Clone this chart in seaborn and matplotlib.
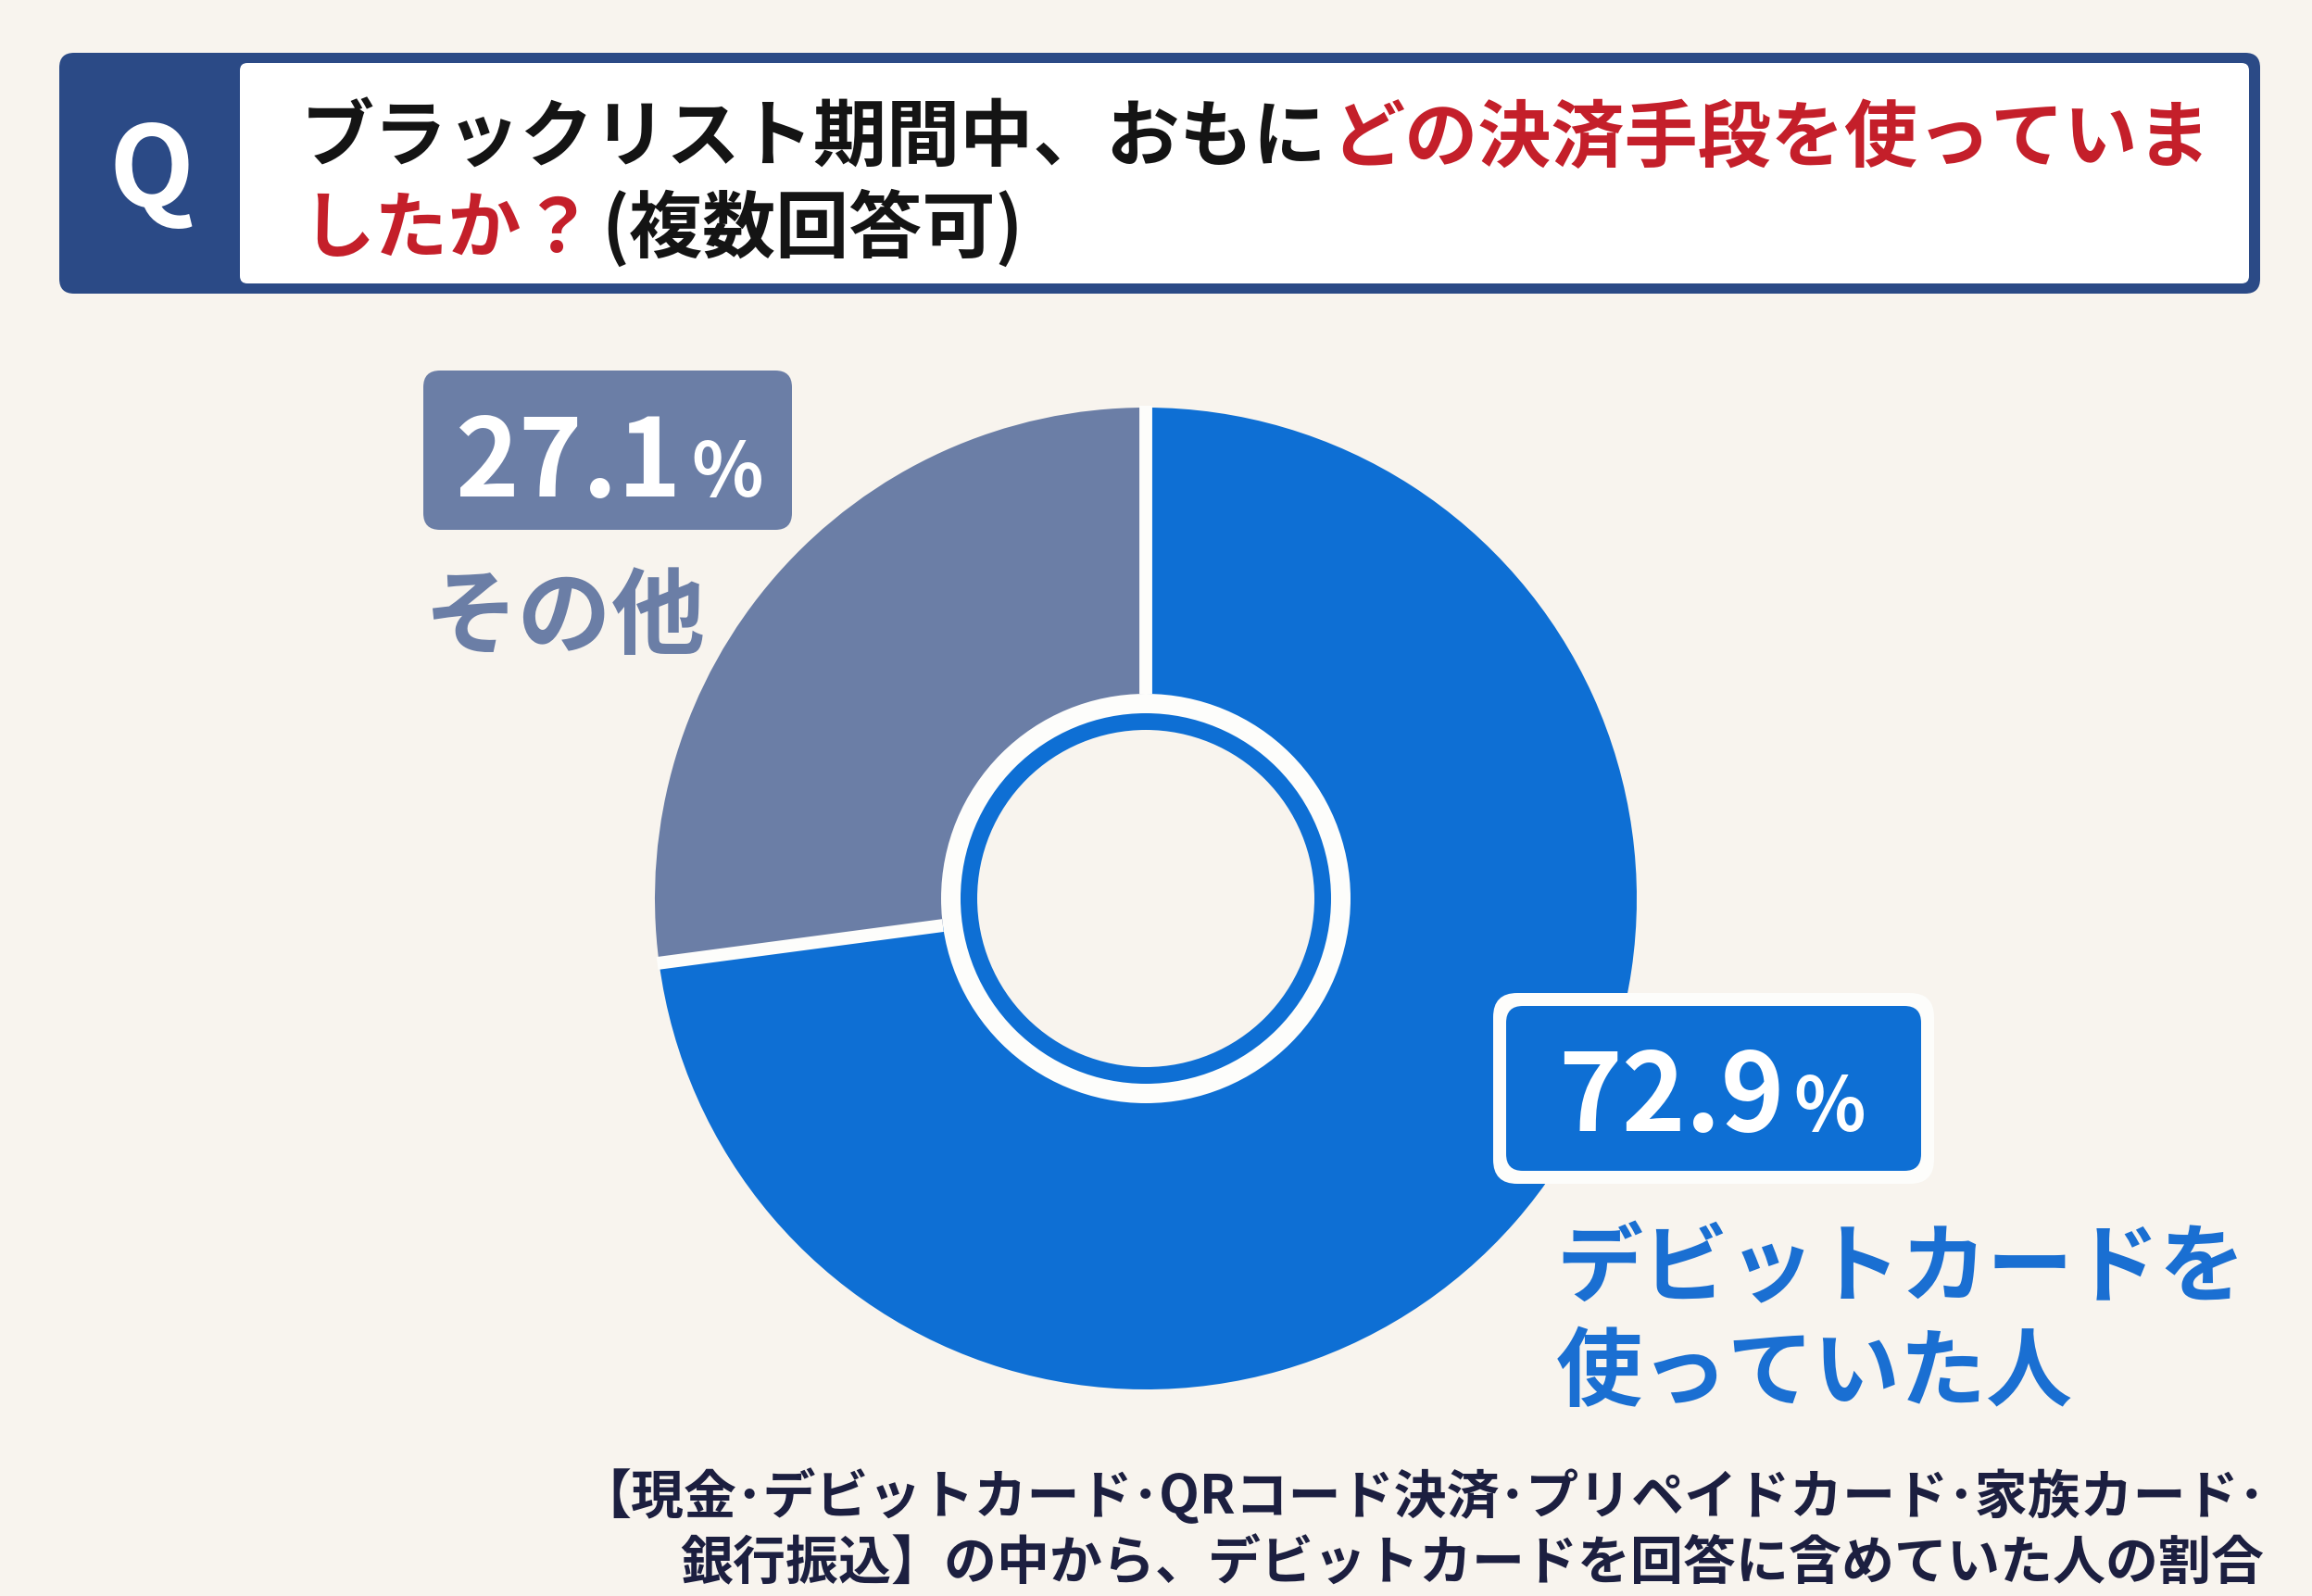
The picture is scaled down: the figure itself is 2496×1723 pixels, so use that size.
import numpy as np
import matplotlib
matplotlib.use("Agg")
import matplotlib.pyplot as plt
import seaborn as sns
from matplotlib.patches import FancyBboxPatch, Circle

W, H = 2496, 1724

# data
values = [72.9, 27.1]
labels = ["デビットカードを\n使っていた人", "その他"]
slice_colors = ["#0e6fd4", "#6b7ea6"]
title_line1 = [("ブラックリスト期間中、おもに", "#141414"), ("どの決済手段を使っていま", "#c41f2a")]
title_line2 = [("したか？", "#c41f2a"), ("(複数回答可)", "#141414")]
note_line1 = "【現金･デビットカード･QRコード決済･プリペイドカード･家族カード･"
note_line2 = "銀行振込】の中から、デビットカードを回答に含めていた人の割合"

BG = "#f8f4ee"
NAVY = "#2b4a86"
NOTE = "#1c1f40"
EDGE = "#fdfdfb"
JP = "Noto Sans CJK JP"

sns.set_theme(style="white")
plt.rcParams['font.family'] = [JP, 'DejaVu Sans']

fig = plt.figure(figsize=(W / 100, H / 100), dpi=100, facecolor=BG)
ax = fig.add_axes([0, 0, 1, 1])
renderer = fig.canvas.get_renderer()


def Y(y):
    # image y (top-down) -> data y
    return H - y


def put_runs(parts, x, y, gap=0, ha="left"):
    # parts: (text, color, size); laid out left to right on one baseline
    items = []
    for s, c, size in parts:
        t = ax.text(0, Y(y), s, color=c, fontsize=size, fontweight="bold",
                    ha="left", va="baseline", zorder=10)
        items.append((t, t.get_window_extent(renderer).width))
    total = sum(w for _, w in items) + gap * (len(items) - 1)
    if ha == "left":
        cur = x
    elif ha == "center":
        cur = x - total / 2
    else:
        cur = x - total
    for t, w in items:
        t.set_x(cur)
        cur += w + gap


# donut
cx, cy = 1237, 971
r_out, r_in = 530, 221
palette = sns.color_palette(slice_colors)
wedges, _ = ax.pie(values, colors=palette, startangle=90, counterclock=False,
                   center=(cx, Y(cy)), radius=r_out,
                   wedgeprops=dict(width=r_out - r_in + 10, linewidth=0))
# white separators between the slices
for w in wedges:
    a = np.deg2rad(w.theta1)
    ax.plot([cx + r_in * np.cos(a), cx + (r_out + 2) * np.cos(a)],
            [Y(cy) + r_in * np.sin(a), Y(cy) + (r_out + 2) * np.sin(a)],
            color=EDGE, lw=10, solid_capstyle="butt", zorder=2)
ax.add_patch(Circle((cx, Y(cy)), r_in, fc=EDGE, ec="none", zorder=3))
ax.add_patch(Circle((cx, Y(cy)), 200, fc=slice_colors[0], ec="none", zorder=4))
ax.add_patch(Circle((cx, Y(cy)), 182, fc=BG, ec="none", zorder=5))
ax.set_xlim(0, W)
ax.set_ylim(0, H)
ax.set_aspect("auto")
ax.axis("off")

# header
ax.add_patch(FancyBboxPatch((64, Y(318)), 2440 - 64, 318 - 58,
                            boxstyle="round,pad=0,rounding_size=16", fc=NAVY, ec="none", zorder=6))
ax.add_patch(FancyBboxPatch((259, Y(307)), 2428 - 259, 307 - 69,
                            boxstyle="round,pad=0,rounding_size=8", fc="white", ec="none", zorder=7))
ax.text(163, Y(188), "Q", color="white", fontsize=86, fontweight="bold",
        ha="center", va="center", zorder=10)
put_runs([(s, c, 57) for s, c in title_line1], 325, 174, gap=4)
put_runs([(s, c, 57) for s, c in title_line2], 325, 272, gap=8)

# labels: その他
ax.add_patch(FancyBboxPatch((457, Y(573)), 855 - 457, 573 - 401,
                            boxstyle="round,pad=0,rounding_size=18", fc=slice_colors[1], ec="none", zorder=8))
put_runs([(f"{values[1]:.1f}", "white", 84), ("%", "white", 58)], 658, 536, gap=10, ha="center")
ax.text(458, Y(698), labels[1], color=slice_colors[1], fontsize=73, fontweight="bold",
        ha="left", va="baseline", zorder=10)

# labels: debit card
ax.add_patch(FancyBboxPatch((1612, Y(1279)), 2088 - 1612, 1279 - 1073,
                            boxstyle="round,pad=0,rounding_size=26", fc=EDGE, ec="none", zorder=8))
ax.add_patch(FancyBboxPatch((1626, Y(1265)), 2074 - 1626, 1265 - 1087,
                            boxstyle="round,pad=0,rounding_size=18", fc=slice_colors[0], ec="none", zorder=9))
put_runs([(f"{values[0]:.1f}", "white", 84), ("%", "white", 58)], 1848, 1221, gap=10, ha="center")
for i, line in enumerate(labels[0].split("\n")):
    ax.text(1680, Y(1398 + i * 113), line, color="#1a6fd2", fontsize=67, fontweight="bold",
            ha="left", va="baseline", zorder=10)

# footnote
put_runs([(note_line1, NOTE, 41)], 2446, 1634, ha="right")
put_runs([(note_line2, NOTE, 41)], 2444, 1705, ha="right")

fig.savefig("out.png", dpi=100, facecolor=BG)
